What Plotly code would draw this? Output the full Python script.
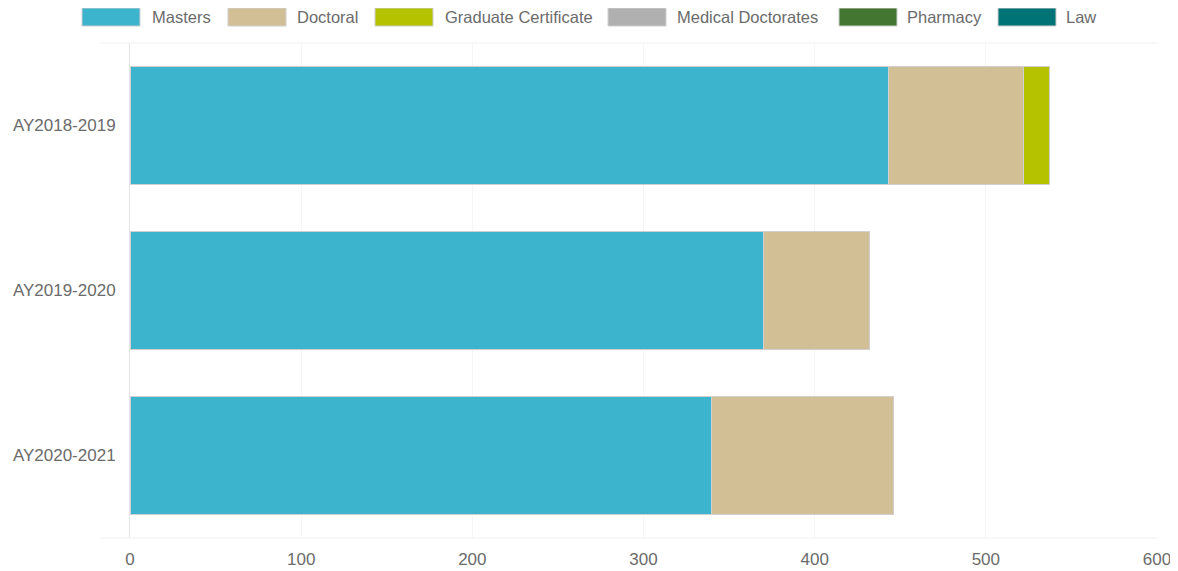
import plotly.graph_objects as go

categories = ["AY2018-2019", "AY2019-2020", "AY2020-2021"]
series_names = ["Masters", "Doctoral", "Graduate Certificate", "Medical Doctorates", "Pharmacy", "Law"]
masters = [443, 370, 340]
doctoral = [79, 62, 106]
grad_cert = [15, 0, 0]
medical = [0, 0, 0]
pharmacy = [0, 0, 0]
law = [0, 0, 0]
colors = ["#3cb4cd", "#d3bf96", "#b5c200", "#b0b0b0", "#437731", "#007377"]
x_ticks = [0, 100, 200, 300, 400, 500, 600]

OFF = 8  # page body margin in the browser
W, H = 1178 - OFF, 571 - OFF
L, R, T, B = 130 - OFF, 21, 43 - OFF, 33

values = [masters, doctoral, grad_cert, medical, pharmacy, law]

fig = go.Figure()
for name, vals, col in zip(series_names, values, colors):
    fig.add_trace(go.Bar(
        y=categories, x=vals, name=name, orientation="h",
        marker=dict(color=col, line=dict(color="#d0d0d0", width=1)),
        showlegend=False,
    ))

# convert screen pixel positions to paper coordinates
def px_x(p):
    return (p - OFF - L) / (W - L - R)

def px_y(p):
    return (H - B - (p - OFF)) / (H - T - B)

# manual legend (wide swatches like the reference)
swatch_left = [82, 228, 375, 608, 839, 998]
text_left = [150, 295, 443, 675, 905, 1064]
shapes = []
annotations = []
for name, col, sx, tx in zip(series_names, colors, swatch_left, text_left):
    shapes.append(dict(type="rect", xref="paper", yref="paper",
                       x0=px_x(sx), x1=px_x(sx + 58), y0=px_y(26), y1=px_y(8),
                       fillcolor=col, line=dict(color="#cfcfcf", width=1)))
    annotations.append(dict(xref="paper", yref="paper", x=px_x(tx), y=px_y(17),
                            text=name, showarrow=False, xanchor="left", yanchor="middle",
                            font=dict(family="Liberation Sans, Arial, sans-serif", size=16.5, color="#6b6b6b")))
# faint top/bottom plot-area lines
for yy in (43, 538):
    shapes.append(dict(type="line", xref="paper", yref="paper",
                       x0=px_x(100), x1=1, y0=px_y(yy), y1=px_y(yy),
                       line=dict(color="#f0f0f0", width=1)))

fig.update_layout(
    width=W, height=H,
    barmode="stack", bargap=0.28,
    margin=dict(l=L, r=R, t=T, b=B, autoexpand=False),
    plot_bgcolor="white", paper_bgcolor="white",
    font=dict(family="Liberation Sans, Arial, sans-serif", size=17, color="#6b6b6b"),
    shapes=shapes, annotations=annotations,
    showlegend=False,
    xaxis=dict(range=[0, 600], tickvals=x_ticks, showgrid=True, gridcolor="#f6f6f6",
               zeroline=False, showline=False, ticks="", ticklabelstandoff=9,
               automargin=False, tickfont=dict(size=17, color="#6b6b6b")),
    yaxis=dict(categoryorder="array", categoryarray=categories, autorange="reversed",
               showgrid=False, zeroline=False, showline=True, linecolor="#e6e6e6", linewidth=1,
               ticks="", ticklabelstandoff=10, automargin=False,
               tickfont=dict(size=17, color="#6b6b6b")),
)

fig.write_html("out.html")
